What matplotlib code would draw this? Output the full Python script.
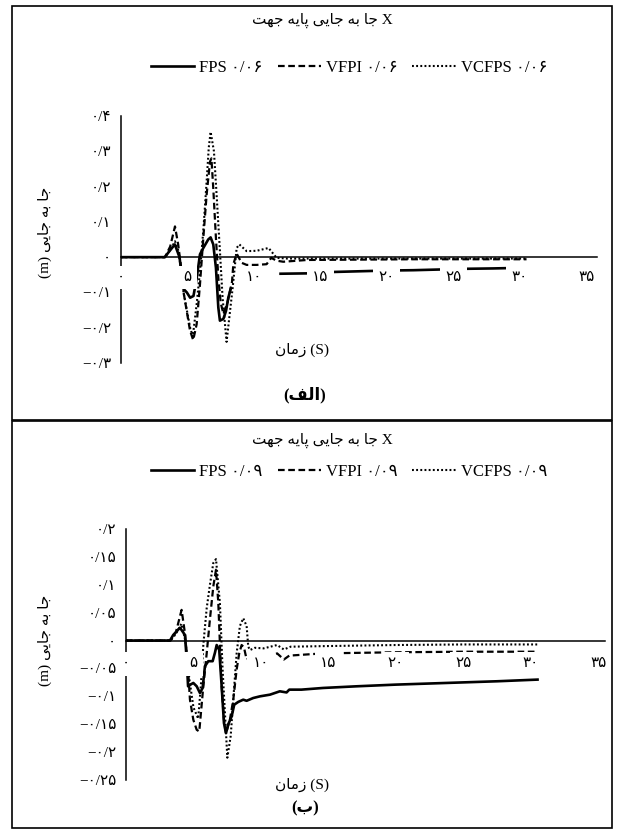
import matplotlib
matplotlib.use('Agg')
import matplotlib.pyplot as plt
import numpy as np
from matplotlib.patches import Rectangle

plt.rcParams['font.family'] = ['Liberation Serif', 'DejaVu Sans']

# ---------------- data: panel (a) 0.06 ----------------
fps1_t = [0, 3.3, 3.6, 4.05, 4.4, 4.7, 4.95, 5.2, 5.45, 5.7, 5.94, 6.19, 6.56, 6.74, 6.94, 7.14,
          7.32, 7.44, 7.7, 7.9, 8.07, 8.25, 10.0, 12.0, 14.0, 16.0, 18.0, 20.0, 22.0, 24.0, 26.0, 28.0, 30.5]
fps1_v = [0, 0, 0.015, 0.036, 0.0, -0.09, -0.10, -0.115, -0.11, -0.058, 0.008, 0.026, 0.05, 0.056, 0.036, -0.03,
          -0.143, -0.18, -0.175, -0.152, -0.115, -0.09, np.nan, -0.047, -0.046, -0.042, -0.04, -0.038, -0.037,
          -0.035, -0.033, -0.032, -0.03]

vfpi1_t = [0, 3.3, 3.7, 4.06, 4.3, 4.49, 4.69, 4.94, 5.19, 5.43, 5.69, 5.94, 6.19, 6.44, 6.69, 6.8, 6.94,
           7.14, 7.32, 7.5, 7.7, 8.0, 8.35, 8.45, 8.7, 9.07, 9.45, 10.2, 10.95, 11.3, 11.7, 12.2, 14.0,
           18.0, 22.0, 26.0, 30.5]
vfpi1_v = [0, 0, 0.03, 0.087, 0.036, -0.02, -0.096, -0.152, -0.208, -0.235, -0.19, -0.077, 0.054, 0.177,
           0.27, 0.28, 0.195, 0.054, -0.058, -0.13, -0.16, -0.13, -0.07, -0.02, 0.01, -0.016, -0.022,
           -0.022, -0.02, -0.002, -0.01, -0.013, -0.008, -0.007, -0.006, -0.006, -0.006]

vcfps1_t = [0, 3.3, 3.7, 4.06, 4.3, 4.5, 4.7, 4.95, 5.2, 5.4, 5.7, 5.94, 6.2, 6.45, 6.6, 6.74, 6.99,
            7.19, 7.44, 7.64, 7.94, 8.15, 8.4, 8.7, 8.9, 9.45, 10.2, 11.1, 11.7, 12.5, 16.0, 20.0, 25.0, 30.5]
vcfps1_v = [0, 0, 0.02, 0.045, 0.02, -0.03, -0.1, -0.15, -0.2, -0.225, -0.13, -0.04, 0.08, 0.22, 0.31,
            0.355, 0.3, 0.177, 0.017, -0.115, -0.24, -0.17, -0.086, 0.026, 0.036, 0.017, 0.018, 0.026,
            -0.002, -0.004, -0.004, -0.004, -0.004, -0.004]

# ---------------- data: panel (b) 0.09 ----------------
fps2_t = [0, 3.26, 3.5, 4.0, 4.37, 4.5, 4.6, 4.7, 4.99, 5.24, 5.48, 5.68, 5.85, 6.1, 6.42, 6.59, 6.72,
          6.91, 7.09, 7.26, 7.41, 7.58, 7.83, 8.02, 8.32, 8.69, 8.94, 9.43, 9.93, 10.67, 11.4, 11.9,
          12.1, 13.0, 14.6, 17.1, 20.0, 22.5, 25.0, 27.5, 30.5]
fps2_v = [0, 0, 0.01, 0.023, 0.01, -0.035, -0.082, -0.08, -0.076, -0.082, -0.094, -0.085, -0.046,
          -0.037, -0.037, -0.022, -0.008, -0.017, -0.082, -0.148, -0.166, -0.15, -0.136, -0.115, -0.11,
          -0.106, -0.108, -0.103, -0.1, -0.097, -0.091, -0.093, -0.088, -0.088, -0.085, -0.082, -0.079,
          -0.077, -0.075, -0.073, -0.07]

vfpi2_t = [0, 3.3, 3.7, 4.12, 4.37, 4.6, 4.74, 4.99, 5.24, 5.43, 5.73, 5.98, 6.22, 6.47, 6.67, 6.84,
           6.96, 7.09, 7.26, 7.41, 7.7, 7.95, 8.2, 8.39, 8.57, 8.74, 8.94, 9.3, 10.0, 10.5, 11.2, 11.7,
           12.1, 14.6, 20.0, 25.0, 30.5]
vfpi2_v = [0, 0, 0.015, 0.055, 0.013, -0.052, -0.106, -0.142, -0.16, -0.163, -0.082, -0.023, 0.038,
           0.097, 0.127, 0.068, -0.006, -0.082, -0.142, -0.166, -0.142, -0.106, -0.052, -0.023, -0.008,
           -0.012, -0.034, -0.03, -0.028, -0.03, -0.023, -0.034, -0.027, -0.023, -0.021, -0.02, -0.02]

vcfps2_t = [0, 3.3, 3.7, 4.1, 4.4, 4.7, 5.0, 5.35, 5.55, 5.73, 5.98, 6.22, 6.47, 6.67, 6.96, 7.16,
            7.36, 7.51, 7.76, 7.95, 8.2, 8.44, 8.69, 8.94, 9.06, 9.19, 9.55, 10.2, 11.2, 11.7, 12.2,
            14.6, 20.0, 25.0, 30.5]
vcfps2_v = [0, 0, 0.012, 0.03, 0.0, -0.07, -0.12, -0.14, -0.08, -0.008, 0.058, 0.1, 0.139, 0.146,
            0.067, -0.052, -0.142, -0.21, -0.171, -0.106, -0.023, 0.026, 0.04, 0.026, -0.011, -0.017,
            -0.013, -0.014, -0.008, -0.016, -0.011, -0.01, -0.008, -0.007, -0.007]

# ---------------- tick labels ----------------
x_ticks = [0, 5, 10, 15, 20, 25, 30, 35]
x_labels = ['۰', '۵', '۱۰', '۱۵', '۲۰', '۲۵', '۳۰', '۳۵']
y1_ticks = [0.4, 0.3, 0.2, 0.1, 0.0, -0.1, -0.2, -0.3]
y1_labels = ['۰/۴', '۰/۳', '۰/۲', '۰/۱', '۰', '−۰/۱', '−۰/۲', '−۰/۳']
y2_ticks = [0.2, 0.15, 0.1, 0.05, 0.0, -0.05, -0.1, -0.15, -0.2, -0.25]
y2_labels = ['۰/۲', '۰/۱۵', '۰/۱', '۰/۰۵', '۰', '−۰/۰۵', '−۰/۱', '−۰/۱۵', '−۰/۲', '−۰/۲۵']

legend1 = ['FPS ۰/۰۶', 'VFPI ۰/۰۶', 'VCFPS ۰/۰۶']
legend2 = ['FPS ۰/۰۹', 'VFPI ۰/۰۹', 'VCFPS ۰/۰۹']

# ---------------- minimal Arabic shaping (visual order) ----------------
AR_FORMS = {  # isolated, final, initial, medial
    'ا': ('\uFE8D', '\uFE8E', None, None),
    'ب': ('\uFE8F', '\uFE90', '\uFE91', '\uFE92'),
    'ت': ('\uFE95', '\uFE96', '\uFE97', '\uFE98'),
    'ج': ('\uFE9D', '\uFE9E', '\uFE9F', '\uFEA0'),
    'ز': ('\uFEAF', '\uFEB0', None, None),
    'ف': ('\uFED1', '\uFED2', '\uFED3', '\uFED4'),
    'ل': ('\uFEDD', '\uFEDE', '\uFEDF', '\uFEE0'),
    'م': ('\uFEE1', '\uFEE2', '\uFEE3', '\uFEE4'),
    'ن': ('\uFEE5', '\uFEE6', '\uFEE7', '\uFEE8'),
    'ه': ('\uFEE9', '\uFEEA', '\uFEEB', '\uFEEC'),
    'ی': ('\uFBFC', '\uFBFD', '\uFBFE', '\uFBFF'),
    'پ': ('\uFB56', '\uFB57', '\uFB58', '\uFB59'),
}


def rtl(s):
    out = []
    for i, ch in enumerate(s):
        f = AR_FORMS.get(ch)
        if f is None:
            out.append(ch)
            continue
        prev = s[i - 1] if i > 0 else None
        nxt = s[i + 1] if i + 1 < len(s) else None
        jp = prev in AR_FORMS and AR_FORMS[prev][2] is not None
        jn = f[2] is not None and nxt in AR_FORMS
        out.append(f[3] if (jp and jn) else f[1] if jp else f[2] if jn else f[0])
    vis = ''.join(out)[::-1]
    return vis.translate(str.maketrans('()', ')('))


title_txt = rtl('جا به جایی پایه جهت') + ' X'
ylabel_txt = '(m) ' + rtl('جا به جایی')
xlabel_txt = rtl('زمان') + ' (S)'
panel_a = rtl('(الف)')
panel_b = rtl('(ب)')

W, H = 617, 831
fig = plt.figure(figsize=(W / 100, H / 100), dpi=100)


def fx(px):
    return px / W


def fy(py):
    return 1 - py / H


def make_axes(left, right, top, bottom, xlim, ylim, yticks, ylabels, xpad):
    ax = fig.add_axes([fx(left), fy(bottom), (right - left) / W, (bottom - top) / H])
    ax.set_xlim(*xlim)
    ax.set_ylim(*ylim)
    ax.set_axisbelow(False)
    for s in ['top', 'right']:
        ax.spines[s].set_visible(False)
    ax.spines['bottom'].set_position(('data', 0))
    for s in ['left', 'bottom']:
        ax.spines[s].set_linewidth(1.1)
        ax.spines[s].set_zorder(2.2)
    ax.set_xticks(x_ticks)
    ax.set_xticklabels(x_labels)
    ax.set_yticks(yticks)
    ax.set_yticklabels(ylabels)
    ax.tick_params(length=0, labelsize=11)
    ax.tick_params(axis='x', pad=xpad)
    ax.tick_params(axis='y', pad=7)
    for lbl in ax.get_xticklabels():
        lbl.set_bbox(dict(boxstyle='square,pad=0.35', fc='white', ec='none'))
    ax.patch.set_visible(False)
    return ax


def draw_series(ax, t_f, v_f, t_d, v_d, t_o, v_o, labels):
    l1, = ax.plot(t_f, v_f, color='black', lw=1.9, solid_joinstyle='round', label=labels[0], zorder=2)
    l2, = ax.plot(t_d, v_d, color='black', lw=1.6, dashes=(3.0, 1.6), label=labels[1], zorder=2)
    l3, = ax.plot(t_o, v_o, color='black', lw=1.5, dashes=(0.9, 1.1), label=labels[2], zorder=2)
    return [l1, l2, l3]


# panel (a)
ax1 = make_axes(121, 597, 116, 363, (0, 35.8), (-0.3, 0.4), y1_ticks, y1_labels, 10)
h1 = draw_series(ax1, fps1_t, fps1_v, vfpi1_t, vfpi1_v, vcfps1_t, vcfps1_v, legend1)

# panel (b)
ax2 = make_axes(126, 605, 529, 780, (0, 35.5), (-0.25, 0.2), y2_ticks, y2_labels, 12)
h2 = draw_series(ax2, fps2_t, fps2_v, vfpi2_t, vfpi2_v, vcfps2_t, vcfps2_v, legend2)

for h, ycen in [(h1, 68), (h2, 472)]:
    fig.legend(handles=h, loc='center', bbox_to_anchor=(fx(349), fy(ycen)), ncol=3, frameon=False,
               fontsize=12, handlelength=2.6, handletextpad=0.3, columnspacing=0.9, borderaxespad=0)

# titles and labels
for ty, ly, ycen in [(20, 350, 232), (440, 785, 640)]:
    fig.text(fx(322), fy(ty), title_txt, ha='center', va='center', fontsize=11)
    fig.text(fx(302), fy(ly), xlabel_txt, ha='center', va='center', fontsize=11)
    fig.text(fx(45), fy(ycen), ylabel_txt, ha='center', va='center', rotation=90, fontsize=11)

fig.text(fx(305), fy(395), panel_a, ha='center', va='center', fontsize=12, fontweight='bold')
fig.text(fx(305), fy(808), panel_b, ha='center', va='center', fontsize=12, fontweight='bold')

# panel frames
for top, bot in [(6, 420), (421, 828)]:
    fig.add_artist(Rectangle((fx(12), fy(bot)), (612 - 12) / W, (bot - top) / H, transform=fig.transFigure,
                             fill=False, ec='black', lw=1.2))

fig.savefig('out.png', dpi=100)
